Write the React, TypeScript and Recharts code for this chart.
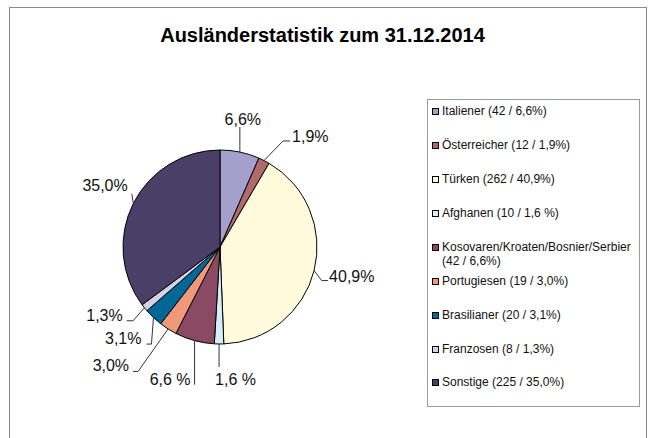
import { PieChart, Pie, Cell, Legend } from "recharts";

const title = "Ausländerstatistik zum 31.12.2014";

const names = [
  "Italiener",
  "Österreicher",
  "Türken",
  "Afghanen",
  "Kosovaren/Kroaten/Bosnier/Serbier",
  "Portugiesen",
  "Brasilianer",
  "Franzosen",
  "Sonstige",
];
const counts = [42, 12, 262, 10, 42, 19, 20, 8, 225];
const legendShares = ["6,6%", "1,9%", "40,9%", "1,6 %", "6,6%", "3,0%", "3,1%", "1,3%", "35,0%"];
const sliceLabels = ["6,6%", "1,9%", "40,9%", "1,6 %", "6,6 %", "3,0%", "3,1%", "1,3%", "35,0%"];
const colors = [
  "#a5a0cb",
  "#b06a6a",
  "#fffadc",
  "#d6eefa",
  "#8a4a63",
  "#f0997a",
  "#006797",
  "#d3d0e8",
  "#4a3f66",
];

const data = names.map((name, i) => ({ name, value: counts[i] }));

const FONT = '"Liberation Sans", Arial, sans-serif';

// leader line shape per slice, offsets from the slice's outer edge point
type LabelLayout = {
  bend: [number, number];
  end: [number, number];
  text: [number, number];
  anchor: "start" | "middle" | "end";
};
const labelLayout: LabelLayout[] = [
  { bend: [0, -25], end: [0, -25], text: [3, -2], anchor: "middle" },
  { bend: [19, -19.6], end: [26, -19.6], text: [2, 1], anchor: "start" },
  { bend: [7.6, 10], end: [14, 10], text: [1, 1], anchor: "start" },
  { bend: [0, 23], end: [0, 23], text: [-4, 18], anchor: "start" },
  { bend: [0, 44], end: [0, 44], text: [-4, 0], anchor: "end" },
  { bend: [-30, 42.5], end: [-35, 42.5], text: [-4, 0], anchor: "end" },
  { bend: [-2, 26.5], end: [-7, 26.5], text: [-5, 0], anchor: "end" },
  { bend: [-11.4, 13], end: [-17.7, 13], text: [-4, 0], anchor: "end" },
  { bend: [-1.6, -9.4], end: [-1.6, -9.4], text: [-4, -3], anchor: "end" },
];

const RAD = Math.PI / 180;

// eslint-disable-next-line @typescript-eslint/no-explicit-any
function SliceLabel(props: any) {
  const { cx, cy, midAngle, outerRadius, index } = props;
  const lay = labelLayout[index];
  const ex = cx + outerRadius * Math.cos(-midAngle * RAD);
  const ey = cy + outerRadius * Math.sin(-midAngle * RAD);
  const bx = ex + lay.bend[0];
  const by = ey + lay.bend[1];
  const tx = ex + lay.end[0];
  const ty = ey + lay.end[1];
  return (
    <g>
      <polyline
        points={`${ex},${ey} ${bx},${by} ${tx},${ty}`}
        fill="none"
        stroke="#333"
        strokeWidth={1}
      />
      <text
        x={tx + lay.text[0]}
        y={ty + lay.text[1]}
        textAnchor={lay.anchor}
        fontSize={16}
        fontFamily={FONT}
        fill="#111"
      >
        {sliceLabels[index]}
      </text>
    </g>
  );
}

function LegendBox() {
  return (
    <div
      style={{
        position: "relative",
        width: 211,
        height: 306,
        border: "1px solid #9a9a9a",
        background: "#fff",
        fontFamily: FONT,
        fontSize: 12,
        color: "#111",
      }}
    >
      {names.map((name, i) => (
        <div
          key={name}
          style={{
            position: "absolute",
            left: 4,
            top: 4.2 + i * 33.9,
            width: 200,
            display: "flex",
            alignItems: "flex-start",
            lineHeight: "14.5px",
          }}
        >
          <span
            style={{
              display: "inline-block",
              width: 5,
              height: 5,
              marginTop: 4,
              marginRight: 3,
              border: "1px solid #000",
              background: colors[i],
              flexShrink: 0,
            }}
          />
          <span>
            {name} ({counts[i]} / {legendShares[i]})
          </span>
        </div>
      ))}
    </div>
  );
}

export default function App() {
  return (
    <div
      style={{
        position: "absolute",
        left: 0,
        top: 0,
        width: 650,
        height: 438,
        background: "#fff",
        overflow: "hidden",
      }}
    >
      <div
        style={{
          position: "absolute",
          left: 9,
          top: 7,
          width: 636,
          height: 460,
          border: "1px solid #8a8a8a",
        }}
      />
      <div
        style={{
          position: "absolute",
          left: 0,
          top: 24,
          width: 645,
          textAlign: "center",
          fontFamily: FONT,
          fontWeight: "bold",
          fontSize: 20,
          lineHeight: "22px",
          color: "#000",
        }}
      >
        {title}
      </div>
      <div style={{ position: "absolute", left: 0, top: 0 }}>
        <PieChart width={650} height={438} margin={{ top: 0, right: 0, bottom: 0, left: 0 }}>
          <Pie
            data={data}
            dataKey="value"
            nameKey="name"
            cx={220}
            cy={247}
            outerRadius={97}
            startAngle={90}
            endAngle={-270}
            stroke="#000"
            strokeWidth={1}
            label={SliceLabel}
            labelLine={false}
            isAnimationActive={false}
          >
            {data.map((d, i) => (
              <Cell key={d.name} fill={colors[i]} />
            ))}
          </Pie>
          <Legend
            layout="vertical"
            align="right"
            verticalAlign="top"
            content={<LegendBox />}
            wrapperStyle={{ left: 427, top: 99, width: 213, right: "auto" }}
          />
        </PieChart>
      </div>
    </div>
  );
}
